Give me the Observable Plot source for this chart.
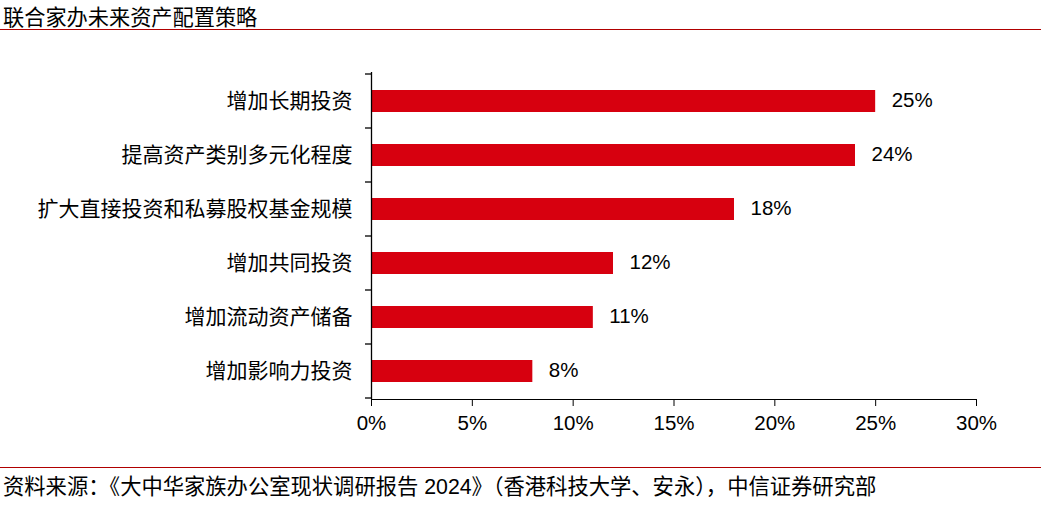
<!DOCTYPE html>
<html>
<head>
<meta charset="utf-8">
<script src="https://cdn.jsdelivr.net/npm/d3@7"></script>
<script src="https://cdn.jsdelivr.net/npm/@observablehq/plot@0.6"></script>
<style>
  html, body { margin: 0; padding: 0; background: #fff; width: 1041px; height: 505px; overflow: hidden; }
  body { font-family: "Liberation Sans", "Noto Sans CJK SC", sans-serif; color: #000; }
  #title { height: 27px; padding-top: 2px; line-height: 27px; padding-left: 3px; font-size: 21.2px; border-bottom: 1px solid #b00000; font-family: "Noto Sans CJK SC", sans-serif; white-space: nowrap; }
  #chart svg { display: block; }
  #caption { border-top: 1px solid #b00000; height: 37px; line-height: 38px; padding-left: 3px; font-size: 21.3px; font-family: "Liberation Sans", "Noto Sans CJK SC", sans-serif; white-space: nowrap; }
</style>
</head>
<body>
<div id="title">联合家办未来资产配置策略</div>
<div id="chart"></div>
<div id="caption">资料来源：《大中华家族办公室现状调研报告 2024》（香港科技大学、安永），中信证券研究部</div>
<script>
const categories = ["增加长期投资", "提高资产类别多元化程度", "扩大直接投资和私募股权基金规模", "增加共同投资", "增加流动资产储备", "增加影响力投资"];
const values = [25, 24, 18, 12, 11, 8];
const xTicks = [0, 5, 10, 15, 20, 25, 30];

const data = categories.map((c, i) => ({category: c, value: values[i]}));
const red = "#d7000f";

const plot = Plot.plot({
  width: 1041,
  height: 437,
  marginTop: 42,
  marginBottom: 68,
  marginLeft: 371,
  marginRight: 65,
  style: {fontFamily: "'Liberation Sans', 'Noto Sans CJK SC', sans-serif", fontSize: "20px", color: "#000", background: "#fff"},
  x: {domain: [0, 30], ticks: xTicks, tickFormat: d => d + "%", tickSize: 7, tickPadding: 9, line: true, label: null},
  y: {domain: categories, paddingInner: 0.6, paddingOuter: 0.3, tickSize: 0, tickPadding: 19, label: null},
  marks: [
    Plot.barX(data, {x: "value", y: "category", fill: red}),
    Plot.ruleX([0], {stroke: "#000", strokeWidth: 1.3}),
    Plot.text(data, {x: "value", y: "category", text: d => d.value + "%", textAnchor: "start", dx: 16, dy: -1, fontSize: 20.5, fill: "#000"})
  ]
});

// y-axis ticks at band boundaries, derived from the band scale
const ys = plot.scale("y");
const svg = d3.select(plot);
svg.selectAll("g[aria-label='y-axis tick label'] text, g[aria-label='y-axis'] text").attr("font-size", 21).style("font-family", "'Noto Sans CJK SC', sans-serif");
svg.selectAll("g[aria-label='x-axis tick label'] text").attr("font-size", 20.5);
const gap = (ys.step - ys.bandwidth) / 2;
const bounds = categories.map(c => ys.apply(c) - gap);
bounds.push(ys.apply(categories[categories.length - 1]) + ys.bandwidth + gap);
const x0 = plot.scale("x").apply(0);
svg.append("g").attr("stroke", "#000").attr("stroke-width", 1.3)
  .selectAll("line").data(bounds).join("line")
  .attr("x1", x0 - 6).attr("x2", x0).attr("y1", d => d).attr("y2", d => d);

document.getElementById("chart").appendChild(plot);
</script>
</body>
</html>
